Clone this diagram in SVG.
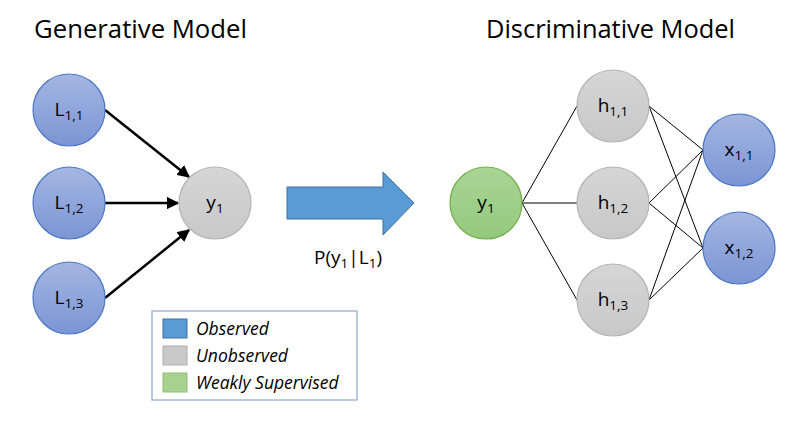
<svg xmlns="http://www.w3.org/2000/svg" width="800" height="423" viewBox="0 0 800 423">
<style>
text{font-family:"Open Sans","Liberation Sans",sans-serif;fill:#000}
.t{font-size:25px}
.n{font-size:19px;text-anchor:middle}
.s{font-size:13.5px}
.blue{fill:url(#gb);stroke:#4a76c6;stroke-width:1.2}
.gray{fill:url(#gg);stroke:#b4b4b4;stroke-width:1.2}
.green{fill:url(#gn);stroke:#71ae48;stroke-width:1.2}
.e{stroke:#000;stroke-width:2.5;fill:none}
.f{stroke:#000;stroke-width:1;fill:none}
.lg{font-size:17.5px;font-style:italic}
</style>
<defs>
<linearGradient id="gb" x1="0" y1="0" x2="0" y2="1"><stop offset="0" stop-color="#a4b6e2"/><stop offset="1" stop-color="#7b95d4"/></linearGradient>
<linearGradient id="gg" x1="0" y1="0" x2="0" y2="1"><stop offset="0" stop-color="#d6d6d6"/><stop offset="1" stop-color="#c8c8c8"/></linearGradient>
<linearGradient id="gn" x1="0" y1="0" x2="0" y2="1"><stop offset="0" stop-color="#a9d595"/><stop offset="1" stop-color="#93c97d"/></linearGradient>
<marker id="ah" viewBox="0 0 10 10" refX="9" refY="5" markerWidth="5" markerHeight="5" orient="auto" markerUnits="strokeWidth"><path d="M0,0 L10,5 L0,10 z" fill="#000"/></marker>
</defs>
<rect width="800" height="423" fill="#fff"/>
<text class="t" x="34" y="38" textLength="213" lengthAdjust="spacingAndGlyphs">Generative Model</text>
<text class="t" x="486" y="38" textLength="249" lengthAdjust="spacingAndGlyphs">Discriminative Model</text>
<g id="connectors">
<line class="e" x1="105" y1="110" x2="189" y2="177" marker-end="url(#ah)"/>
<line class="e" x1="105" y1="203" x2="178" y2="203" marker-end="url(#ah)"/>
<line class="e" x1="105" y1="298" x2="189" y2="230" marker-end="url(#ah)"/>
<line class="f" x1="522" y1="203" x2="577" y2="106"/>
<line class="f" x1="522" y1="203" x2="577" y2="203"/>
<line class="f" x1="522" y1="203" x2="577" y2="300"/>
<line class="f" x1="649" y1="106" x2="703" y2="150"/>
<line class="f" x1="649" y1="106" x2="703" y2="248"/>
<line class="f" x1="649" y1="203" x2="703" y2="150"/>
<line class="f" x1="649" y1="203" x2="703" y2="248"/>
<line class="f" x1="649" y1="300" x2="703" y2="150"/>
<line class="f" x1="649" y1="300" x2="703" y2="248"/>
</g>
<g id="L11"><circle class="blue" cx="69" cy="110" r="36"/><text class="n" x="69" y="116">L<tspan class="s" dy="4">1,1</tspan></text></g>
<g id="L12"><circle class="blue" cx="69" cy="203" r="36"/><text class="n" x="69" y="209">L<tspan class="s" dy="4">1,2</tspan></text></g>
<g id="L13"><circle class="blue" cx="69" cy="298" r="36"/><text class="n" x="69" y="304">L<tspan class="s" dy="4">1,3</tspan></text></g>
<g id="y1g"><circle class="gray" cx="215" cy="203" r="36"/><text class="n" x="215" y="209">y<tspan class="s" dy="4">1</tspan></text></g>
<g id="bigarrow"><path d="M287,187 L383,187 L383,172 L414,203 L383,235 L383,219 L287,219 Z" fill="#5b9bd5" stroke="#41719c" stroke-width="1"/>
<text x="348" y="264" font-size="19" text-anchor="middle">P(y<tspan class="s" dy="4">1</tspan><tspan dy="-4">|L</tspan><tspan class="s" dy="4">1</tspan><tspan dy="-4">)</tspan></text></g>
<g id="legend">
<rect x="152" y="311" width="205" height="89" fill="#fff" stroke="#8ea9c8" stroke-width="1.2"/>
<rect x="163" y="319" width="24" height="19" fill="#5b9bd5" stroke="#41719c"/>
<rect x="163" y="346" width="24" height="19" fill="#c9c9c9" stroke="#adadad"/>
<rect x="163" y="373" width="24" height="19" fill="#a9d18e" stroke="#8fbf72"/>
<text class="lg" x="196" y="335">Observed</text>
<text class="lg" x="196" y="362">Unobserved</text>
<text class="lg" x="196" y="389">Weakly Supervised</text>
</g>
<g id="y1w"><circle class="green" cx="486" cy="203" r="36"/><text class="n" x="486" y="209">y<tspan class="s" dy="4">1</tspan></text></g>
<g id="h11"><circle class="gray" cx="613" cy="106" r="36"/><text class="n" x="613" y="112">h<tspan class="s" dy="4">1,1</tspan></text></g>
<g id="h12"><circle class="gray" cx="613" cy="203" r="36"/><text class="n" x="613" y="209">h<tspan class="s" dy="4">1,2</tspan></text></g>
<g id="h13"><circle class="gray" cx="613" cy="300" r="36"/><text class="n" x="613" y="306">h<tspan class="s" dy="4">1,3</tspan></text></g>
<g id="x11"><circle class="blue" cx="739" cy="150" r="36"/><text class="n" x="739" y="156">x<tspan class="s" dy="4">1,1</tspan></text></g>
<g id="x12"><circle class="blue" cx="739" cy="248" r="36"/><text class="n" x="739" y="254">x<tspan class="s" dy="4">1,2</tspan></text></g>
</svg>
